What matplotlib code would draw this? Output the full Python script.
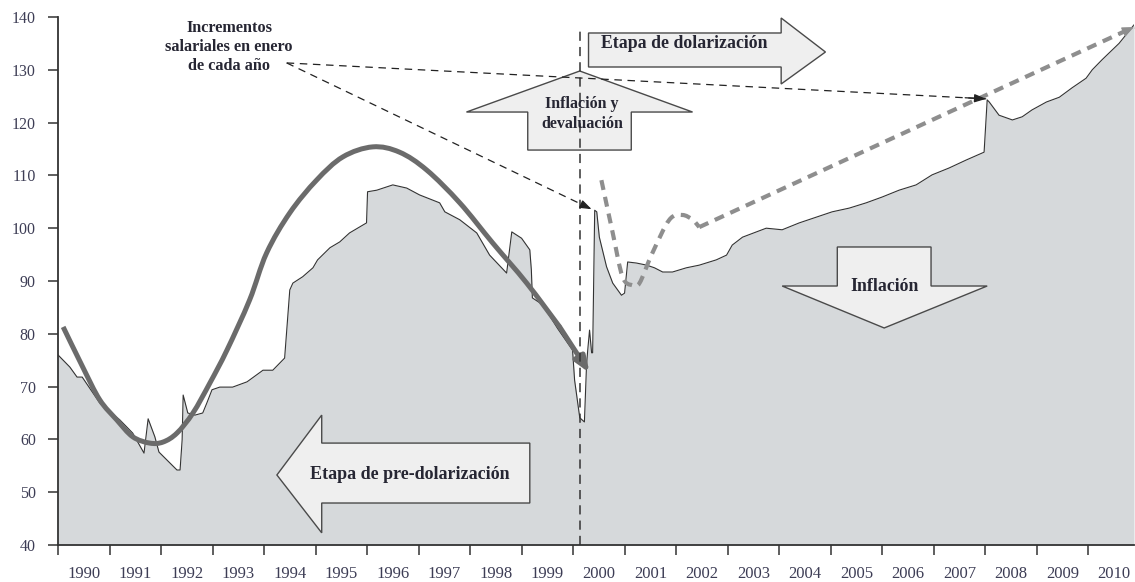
import matplotlib
matplotlib.use("Agg")
import matplotlib.pyplot as plt
from matplotlib.patches import Polygon, PathPatch
from matplotlib.path import Path

# ---------------- Data ----------------
# real wage index, fraction of year vs index value
wage_t = [1990.00, 1990.23, 1990.37, 1990.47, 1990.81, 1991.01, 1991.20, 1991.45, 1991.67, 1991.75,
          1991.88, 1991.96, 1992.31, 1992.37, 1992.41, 1992.43, 1992.52, 1992.66, 1992.81, 1992.89,
          1992.99, 1993.14, 1993.39, 1993.67, 1993.98, 1994.17, 1994.40, 1994.50, 1994.56, 1994.75,
          1994.95, 1995.04, 1995.28, 1995.47, 1995.66, 1995.92, 1995.99, 1996.01, 1996.19, 1996.50,
          1996.77, 1997.02, 1997.41, 1997.51, 1997.80, 1998.13, 1998.38, 1998.71, 1998.81, 1999.00,
          1999.16, 1999.19, 1999.21, 1999.41, 1999.70, 1999.99, 2000.03, 2000.13, 2000.22, 2000.26,
          2000.28, 2000.32, 2000.36, 2000.38, 2000.42, 2000.46, 2000.51, 2000.65, 2000.77, 2000.94,
          2001.00, 2001.06, 2001.23, 2001.43, 2001.58, 2001.74, 2001.93, 2002.20, 2002.45, 2002.78,
          2002.98, 2003.09, 2003.29, 2003.75, 2004.06, 2004.39, 2005.03, 2005.36, 2005.69, 2006.00,
          2006.33, 2006.66, 2006.97, 2007.30, 2007.63, 2007.98, 2008.04, 2008.08, 2008.27, 2008.53,
          2008.72, 2008.91, 2009.19, 2009.44, 2009.69, 2009.96, 2010.08, 2010.27, 2010.60, 2010.89]
wage_v = [76.0, 73.7, 71.8, 71.8, 66.9, 65.2, 63.7, 61.2, 57.4, 63.9,
          60.5, 57.6, 54.2, 54.2, 59.9, 68.4, 65.0, 64.6, 65.0, 66.9,
          69.4, 69.9, 69.9, 70.9, 73.1, 73.1, 75.4, 88.3, 89.6, 90.8,
          92.5, 94.0, 96.3, 97.4, 99.1, 100.6, 101.0, 106.9, 107.2, 108.2,
          107.6, 106.3, 104.8, 103.1, 101.6, 99.1, 94.9, 91.5, 99.3, 98.1,
          95.9, 92.1, 86.8, 85.5, 81.0, 76.9, 71.2, 64.1, 63.3, 73.7,
          76.4, 80.7, 76.4, 76.4, 103.4, 103.1, 98.3, 92.7, 89.6, 87.3,
          87.7, 93.6, 93.4, 93.0, 92.5, 91.7, 91.7, 92.5, 93.0, 94.0,
          94.9, 96.8, 98.3, 100.0, 99.7, 101.0, 103.1, 103.8, 104.8, 105.9,
          107.2, 108.2, 110.1, 111.4, 112.9, 114.4, 124.3, 123.9, 121.4, 120.5,
          121.1, 122.4, 123.9, 124.8, 126.6, 128.4, 130.0, 131.9, 135.0, 138.5]

# pre-dollarization trend (thick solid curve)
trend_t = [1990.10, 1990.48, 1990.81, 1991.14, 1991.45, 1991.78, 1992.04, 1992.31, 1992.62, 1992.95,
           1993.28, 1993.72, 1994.05, 1994.50, 1995.02, 1995.53, 1996.11, 1996.63, 1997.16, 1997.80,
           1998.44, 1999.10, 1999.74, 2000.32]
trend_v = [81.3, 73.7, 67.5, 63.7, 60.5, 59.3, 59.5, 61.2, 65.0, 70.7,
           76.9, 86.4, 95.3, 102.9, 109.1, 113.5, 115.4, 114.4, 111.0, 104.8,
           97.2, 89.6, 81.3, 72.6]

# dollarization trend (thick dashed curve)
dtrend_t = [2000.55, 2000.77, 2000.96, 2001.15, 2001.29, 2001.54, 2001.87, 2002.12, 2002.32, 2002.45, 2010.89]
dtrend_v = [109.1, 99.1, 90.8, 89.2, 89.6, 95.3, 101.6, 102.5, 101.6, 100.2, 138.1]

years = list(range(1990, 2011))
yticks = list(range(40, 141, 10))

# annotation anchor points
note_src = (1994.44, 131.3)
note_dst = [(2000.36, 103.6), (2008.02, 124.5)]
dollarization_t = 2000.13


def smooth_path(xs, ys):
    # draw a hand-drawn looking curve through the points with bezier segments
    pts = list(zip(xs, ys))
    verts = [pts[0]]
    codes = [Path.MOVETO]
    n = len(pts)
    for i in range(n - 1):
        p0 = pts[i - 1] if i > 0 else pts[i]
        p1 = pts[i]
        p2 = pts[i + 1]
        p3 = pts[i + 2] if i + 2 < n else pts[i + 1]
        c1 = (p1[0] + (p2[0] - p0[0]) / 6, p1[1] + (p2[1] - p0[1]) / 6)
        c2 = (p2[0] - (p3[0] - p1[0]) / 6, p2[1] - (p3[1] - p1[1]) / 6)
        verts += [c1, c2, p2]
        codes += [Path.CURVE4] * 3
    return Path(verts, codes)


# ---------------- Figure ----------------
serif = "Liberation Serif"
txt_col = "#262633"

fig = plt.figure(figsize=(11.35, 5.82), dpi=100)
ax = fig.add_axes([0.0511, 0.0636, 0.948, 0.9072])

ax.fill_between(wage_t, 40, wage_v, color="#d6d9db", lw=0, zorder=1)
ax.plot(wage_t, wage_v, color="#333333", lw=0.8, zorder=2)

# big block arrows
arrow_col = dict(facecolor="#efefef", edgecolor="#4a4a4a", lw=1.0, zorder=3, clip_on=False)
dolar_arrow = [(2000.30, 136.97), (2004.04, 136.97), (2004.04, 139.81), (2004.90, 133.37),
               (2004.04, 127.31), (2004.04, 130.53), (2000.30, 130.53)]
up_arrow = [(2000.13, 129.77), (2002.32, 122.0), (2001.13, 122.0), (2001.13, 114.8),
            (1999.12, 114.8), (1999.12, 122.0), (1997.93, 122.0)]
down_arrow = [(2005.13, 96.44), (2006.95, 96.44), (2006.95, 89.05), (2008.04, 89.05),
              (2006.04, 81.1), (2004.06, 89.05), (2005.13, 89.05)]
left_arrow = [(1994.25, 53.26), (1995.12, 64.6), (1995.12, 59.3), (1999.16, 59.3),
              (1999.16, 47.95), (1995.12, 47.95), (1995.12, 42.3)]
for pts in [dolar_arrow, up_arrow, down_arrow, left_arrow]:
    ax.add_patch(Polygon(pts, closed=True, **arrow_col))

# thick trend lines
ax.add_patch(PathPatch(smooth_path(trend_t[:-1], trend_v[:-1]), fill=False, edgecolor="#6b6b6b",
                       lw=3.6, capstyle="butt", zorder=4))
ax.annotate("", xy=(trend_t[-1], trend_v[-1]), xytext=(trend_t[-2], trend_v[-2]),
            arrowprops=dict(arrowstyle="-|>,head_length=0.9,head_width=0.35", color="#6b6b6b",
                            lw=3.6, shrinkA=0, shrinkB=0), zorder=4)

ax.add_patch(PathPatch(smooth_path(dtrend_t[:-1], dtrend_v[:-1]), fill=False, edgecolor="#8e8e8e",
                       lw=3.0, linestyle=(0, (2.4, 1.7)), zorder=4))
ax.plot(dtrend_t[-2:], dtrend_v[-2:], color="#8e8e8e", lw=3.0, linestyle=(0, (2.4, 1.7)),
        zorder=4, clip_on=False)
ax.annotate("", xy=(dtrend_t[-1], dtrend_v[-1]),
            xytext=(dtrend_t[-1] - 0.3, dtrend_v[-1] - 1.35),
            arrowprops=dict(arrowstyle="-|>,head_length=0.7,head_width=0.3", color="#8e8e8e",
                            lw=1, shrinkA=0, shrinkB=0), zorder=4, annotation_clip=False)

# vertical dollarization line
ax.plot([dollarization_t, dollarization_t], [40, 137.5], color="#333333", lw=1.1,
        linestyle=(0, (6, 4)), zorder=5, clip_on=False)

# thin dashed pointers from the note
for dst in note_dst:
    ax.plot([note_src[0], dst[0]], [note_src[1], dst[1]], color="#222222", lw=0.9,
            linestyle=(0, (6, 4.5)), zorder=5)
    dx, dy = dst[0] - note_src[0], dst[1] - note_src[1]
    ax.annotate("", xy=dst, xytext=(dst[0] - dx * 0.03, dst[1] - dy * 0.03),
                arrowprops=dict(arrowstyle="-|>,head_length=0.7,head_width=0.25", color="#222222",
                                lw=0.9, shrinkA=0, shrinkB=0), zorder=5)

# ---------------- Text ----------------
tkw = dict(family=serif, weight="bold", color=txt_col, ha="center", va="center", zorder=6)
ax.text(1993.32, 134.3, "Incrementos\nsalariales en enero\nde cada año", fontsize=11.7,
        linespacing=1.25, **tkw)
ax.text(2002.16, 135.0, "Etapa de dolarización", fontsize=12.8, **tkw)
ax.text(2000.17, 121.6, "Inflación y\ndevaluación", fontsize=11.5, linespacing=1.3, **tkw)
ax.text(2006.04, 88.9, "Inflación", fontsize=12.8, **tkw)
ax.text(1996.83, 53.3, "Etapa de pre-dolarización", fontsize=13, **tkw)

# ---------------- Axes ----------------
ax.set_xlim(1990, 2010.89)
ax.set_ylim(40, 140)
ax.set_xticks(years)
ax.set_xticklabels([])
ax.set_xticks([y + 0.5 for y in years], minor=True)
ax.set_xticklabels([str(y) for y in years], minor=True)
ax.set_yticks(yticks)
ax.set_yticklabels([str(y) for y in yticks])

ax.tick_params(axis="x", which="major", length=7, width=1.1, direction="out", color="#333333")
ax.tick_params(axis="x", which="minor", length=0, pad=15)
ax.tick_params(axis="y", length=7, width=1.1, color="#333333", pad=9)
for lab in ax.get_xticklabels(minor=True):
    lab.set_family(serif)
    lab.set_fontsize(12)
    lab.set_color("#3d3d55")
for lab in ax.get_yticklabels():
    lab.set_family(serif)
    lab.set_fontsize(11.5)
    lab.set_color("#3d3d55")

for side in ["top", "right"]:
    ax.spines[side].set_visible(False)
for side in ["left", "bottom"]:
    ax.spines[side].set_color("#333333")
    ax.spines[side].set_linewidth(1.3)
    ax.spines[side].set_zorder(6)

plt.savefig("out.png", dpi=100)
